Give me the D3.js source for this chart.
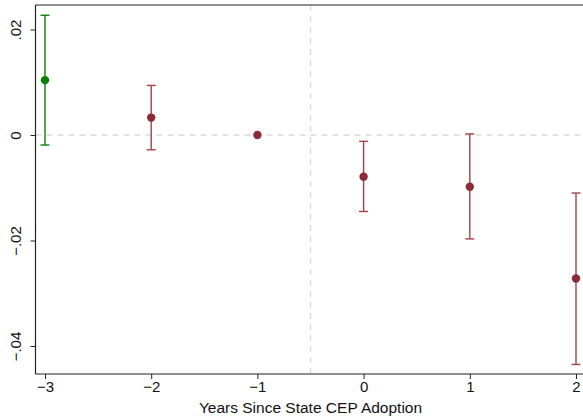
<!DOCTYPE html>
<html><head><meta charset="utf-8">
<script src="https://cdn.jsdelivr.net/npm/d3@7"></script>
<style>body{margin:0;background:#fff}svg{display:block;font-family:"Liberation Sans",Arial,sans-serif}</style>
</head><body>
<svg id="c" width="583" height="419"></svg>
<script>
const years = [-3, -2, -1, 0, 1, 2];
const estimates = [0.0104, 0.0033, 0.0, -0.0079, -0.0098, -0.0272];
const ciLow = [-0.0019, -0.0028, null, -0.0145, -0.0197, -0.0435];
const ciHigh = [0.0227, 0.0094, null, -0.0012, 0.0002, -0.0110];
const pointColors = ["#0a820a", "#8c2b36", "#8c2b36", "#8c2b36", "#8c2b36", "#8c2b36"];
const yTicks = [-0.04, -0.02, 0, 0.02];
const yTickLabels = ["\u2212.04", "\u2212.02", "0", ".02"];
const xTicks = [-3, -2, -1, 0, 1, 2];
const xTitle = "Years Since State CEP Adoption";

(function(){
const svg = d3.select("#c");
const x = d3.scaleLinear().domain([-3, 2]).range([45, 576]);
const y = d3.scaleLinear().domain([-0.04, 0.02]).range([346, 29.5]);
const pLeft = 35.5, pTop = 5, pBottom = 374;

// reference lines
svg.append("line").attr("x1", pLeft).attr("x2", 583).attr("y1", y(0)).attr("y2", y(0))
  .attr("stroke", "#dadada").attr("stroke-width", 1.4).attr("stroke-dasharray", "6,5");
svg.append("line").attr("x1", x(-0.5)).attr("x2", x(-0.5)).attr("y1", pTop).attr("y2", pBottom)
  .attr("stroke", "#dadada").attr("stroke-width", 1.4).attr("stroke-dasharray", "6,5");

// frame
svg.append("line").attr("x1", pLeft).attr("x2", 583).attr("y1", pTop).attr("y2", pTop).attr("stroke", "#222").attr("stroke-width", 1.2);

// axes
const yAxis = d3.axisLeft(y).tickValues(yTicks).tickFormat((d, i) => yTickLabels[i]).tickSize(5).tickSizeOuter(0);
const gy = svg.append("g").attr("transform", `translate(${pLeft},0)`).call(yAxis);
gy.select(".domain").attr("d", `M0,${pTop}V${pBottom}`).attr("stroke", "#222").attr("stroke-width", 1.2);
gy.selectAll(".tick line").attr("stroke", "#222");
gy.selectAll(".tick text").attr("font-size", 15).attr("fill", "#111")
  .attr("transform", "rotate(-90)")
  .attr("x", 0).attr("y", -15).attr("dy", 0).attr("text-anchor", "middle");

const xAxis = d3.axisBottom(x).tickValues(xTicks).tickFormat(d => d < 0 ? "\u2212" + Math.abs(d) : String(d)).tickSize(5).tickSizeOuter(0);
const gx = svg.append("g").attr("transform", `translate(0,${pBottom})`).call(xAxis);
gx.select(".domain").attr("d", `M${pLeft},0H583`).attr("stroke", "#222").attr("stroke-width", 1.2);
gx.selectAll(".tick line").attr("stroke", "#222");
gx.selectAll(".tick text").attr("font-size", 15).attr("fill", "#111").attr("y", 7).attr("dy", "0.71em");

svg.append("text").attr("x", x(-0.5)).attr("y", 413).attr("text-anchor", "middle")
  .attr("font-size", 15.5).attr("fill", "#111").text(xTitle);

// error bars
const data = years.map((yr, i) => ({yr, est: estimates[i], lo: ciLow[i], hi: ciHigh[i], col: pointColors[i]}));
const eb = svg.append("g");
data.filter(d => d.lo !== null).forEach(d => {
  const col = d.col === pointColors[0] ? d.col : "#a3424b";
  eb.append("line").attr("x1", x(d.yr)).attr("x2", x(d.yr)).attr("y1", y(d.lo)).attr("y2", y(d.hi))
    .attr("stroke", col).attr("stroke-width", 1.4);
  [d.lo, d.hi].forEach(v => eb.append("line").attr("x1", x(d.yr) - 4.5).attr("x2", x(d.yr) + 4.5)
    .attr("y1", y(v)).attr("y2", y(v)).attr("stroke", col).attr("stroke-width", 1.4));
});
svg.append("g").selectAll("circle").data(data).join("circle")
  .attr("cx", d => x(d.yr)).attr("cy", d => y(d.est)).attr("r", 4.2).attr("fill", d => d.col);
})();
</script>
</body></html>
